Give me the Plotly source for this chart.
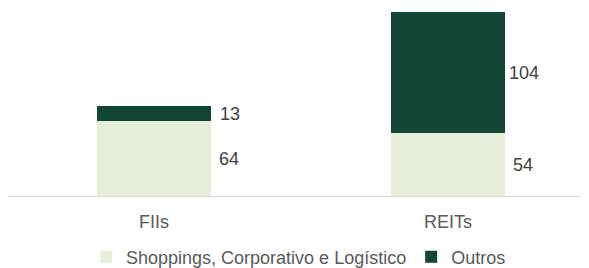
import plotly.graph_objects as go

categories = ["FIIs", "REITs"]
shoppings = [64, 54]
outros = [13, 104]
series_names = ["Shoppings, Corporativo e Logístico", "Outros"]

light = "#E6EED9"
dark = "#124534"
text_col = "#404040"
axis_text = "#595959"
font_family = "Liberation Sans, Arial"

xpos = list(range(len(categories)))
bar_w = 0.388

fig = go.Figure()
fig.add_trace(go.Bar(x=xpos, y=shoppings, name=series_names[0], marker=dict(color=light, line=dict(width=0)), width=bar_w))
fig.add_trace(go.Bar(x=xpos, y=outros, name=series_names[1], marker=dict(color=dark, line=dict(width=0)), width=bar_w))

annotations = []
for i in xpos:
    annotations.append(dict(x=i + bar_w / 2, y=shoppings[i] / 2, text=str(shoppings[i]), showarrow=False,
                            xanchor="center", yanchor="middle", xshift=18,
                            font=dict(size=18, color=text_col, family=font_family)))
    annotations.append(dict(x=i + bar_w / 2, y=shoppings[i] + outros[i] / 2, text=str(outros[i]), showarrow=False,
                            xanchor="center", yanchor="middle", xshift=19,
                            font=dict(size=18, color=text_col, family=font_family)))

fig.update_layout(
    barmode="stack",
    width=581, height=260,
    margin=dict(l=0, r=0, t=2, b=72, autoexpand=False),
    plot_bgcolor="white", paper_bgcolor="white",
    font=dict(family=font_family, color=axis_text),
    xaxis=dict(range=[-0.4966, 1.4796], tickmode="array", tickvals=xpos, ticktext=categories,
               showline=True, linecolor="#D9D9D9", linewidth=1, showgrid=False, zeroline=False,
               tickfont=dict(size=18, color=axis_text), ticks="", ticklen=0, ticklabelstandoff=9,
               automargin=False),
    yaxis=dict(range=[0, 159.7], visible=False, showgrid=False, zeroline=False, automargin=False),
    legend=dict(orientation="h", x=0.5, xanchor="center", yref="container", y=0.042, yanchor="middle",
                font=dict(size=18, color=axis_text), traceorder="normal", itemwidth=30),
    annotations=annotations,
    showlegend=True,
)

fig.write_html("out.html")
